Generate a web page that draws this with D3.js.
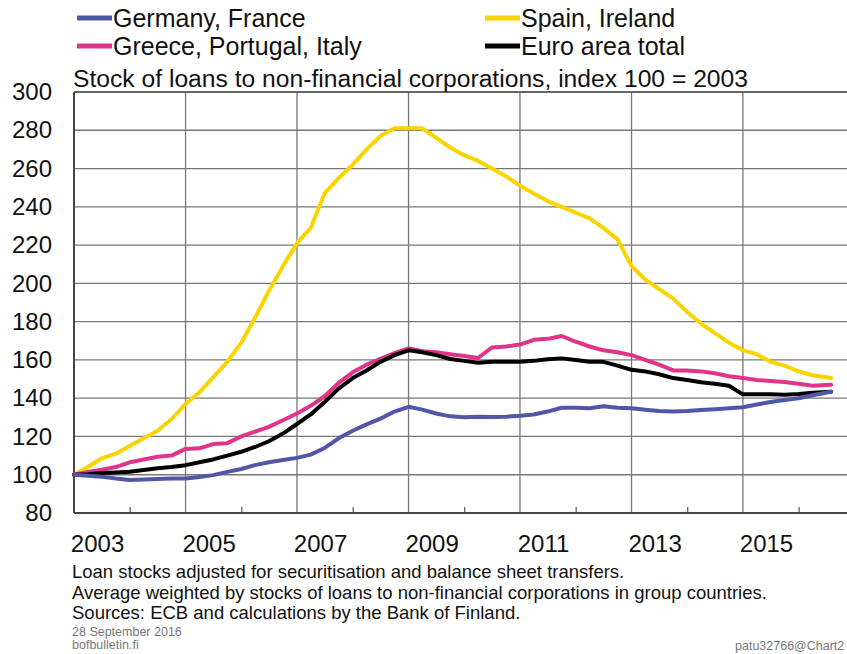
<!DOCTYPE html>
<html><head><meta charset="utf-8">
<script src="https://cdn.jsdelivr.net/npm/d3@7"></script>
<style>
body{margin:0;background:#fff}
svg text{font-family:"Liberation Sans", Arial, sans-serif;fill:#111}
</style>
</head><body>
<svg id="c" width="847" height="654"></svg>
<script>
const dates = ["2003-01","2003-04","2003-07","2003-10","2004-01","2004-04","2004-07","2004-10",
"2005-01","2005-04","2005-07","2005-10","2006-01","2006-04","2006-07","2006-10",
"2007-01","2007-04","2007-07","2007-10","2008-01","2008-04","2008-07","2008-10",
"2009-01","2009-04","2009-07","2009-10","2010-01","2010-04","2010-07","2010-10",
"2011-01","2011-04","2011-07","2011-10","2012-01","2012-04","2012-07","2012-10",
"2013-01","2013-04","2013-07","2013-10","2014-01","2014-04","2014-07","2014-10",
"2015-01","2015-04","2015-07","2015-10","2016-01","2016-04","2016-08"];

const germanyFrance = [100,99.5,99,98,97.2,97.5,97.8,98,98,98.8,99.8,101.5,103,105,106.5,107.7,
108.8,110.5,114,119,123,126.3,129.3,133,135.5,134,132,130.5,130,130.3,130.2,130.3,
130.8,131.5,133,135,135,134.7,135.8,135,134.7,134,133.3,133,133.3,133.8,134.2,134.7,
135.3,136.7,138,139,140,141.5,143.4];

const spainIreland = [100,104,108.5,111,115,119,123,129,137,143,151,159,169,182,196,209,
221,229,247,255,262,270,277,281,281,281,276,271,267,264,260,256,
251,247,243,240,237,234,229,223,209,202,197,192,185,179,174,169,
165,163,159,157,154,152,150.5];

const greecePortugalItaly = [100,101.5,102.6,104,106.5,108,109.4,110,113.5,113.8,116,116.5,120,122.5,125,128.5,
132,136,141,148,153.5,157.5,160.5,163.5,166,164.5,164,163,162,161,166.5,167,
168,170.5,171,172.5,169.5,167,165,164,162.5,160,157.5,154.5,154.5,154,153,151.5,
150.5,149.5,149,148.5,147.5,146.5,147];

const euroArea = [100,100.3,100.9,101.2,101.6,102.5,103.4,104,105,106.5,108,110,112,114.5,117.5,121.5,
126.5,131.5,138,145,150.5,154.5,159,162.5,165,164,162.5,160.5,159.5,158.5,159,159,
159,159.5,160.3,160.8,160,159,159,157,154.8,154,152.5,150.5,149.5,148.3,147.5,146.5,
142,142,142,141.8,142.2,142.8,143.4];

const seriesNames = ["Germany, France","Spain, Ireland","Greece, Portugal, Italy","Euro area total"];
const seriesColors = ["#4f57a8","#fad400","#e0348a","#000000"];
const yTicks = [80,100,120,140,160,180,200,220,240,260,280,300];
const xLabels = ["2003","2005","2007","2009","2011","2013","2015"];
const xGridYears = ["2005","2007","2009","2011","2013","2015"];
const xMinorYears = ["2004","2006","2008","2010","2012","2014","2016"];
const subtitle = "Stock of loans to non-financial corporations, index 100 = 2003";
const notes = ["Loan stocks adjusted for securitisation and balance sheet transfers.",
"Average weighted by stocks of loans to non-financial corporations in group countries.",
"Sources: ECB and calculations by the Bank of Finland."];
const smallNotes = ["28 September 2016","bofbulletin.fi"];
const chartId = "patu32766@Chart2";

const parseM = d3.timeParse("%Y-%m");
const parseY = d3.timeParse("%Y");
const svg = d3.select("#c");
const L = 74, T = 92, B = 513, R = 854.5;
const x = d3.scaleTime().domain([parseY("2003"), parseY("2017")]).range([L, R]);
const y = d3.scaleLinear().domain([80, 300]).range([B, T]);

// gridlines
svg.append("g").selectAll("line").data(yTicks.filter(v => v > 80)).join("line")
  .attr("x1", L).attr("x2", R).attr("y1", d => y(d)).attr("y2", d => y(d))
  .attr("stroke", "#777").attr("stroke-width", 1.3);
svg.append("g").selectAll("line").data(xGridYears).join("line")
  .attr("x1", d => x(parseY(d))).attr("x2", d => x(parseY(d)))
  .attr("y1", T).attr("y2", B).attr("stroke", "#777").attr("stroke-width", 1.3);

// minor ticks
svg.append("g").attr("transform", `translate(0,${B})`)
  .call(d3.axisBottom(x).tickValues(xMinorYears.map(parseY)).tickSize(-6).tickFormat(""))
  .call(g => g.select(".domain").remove())
  .call(g => g.selectAll("line").attr("stroke", "#555").attr("stroke-width", 1.2));

// y axis
svg.append("g").attr("transform", `translate(${L},0)`)
  .call(d3.axisLeft(y).tickValues(yTicks).tickSize(0).tickPadding(22))
  .call(g => g.select(".domain").remove())
  .call(g => g.selectAll("text").attr("font-size", 24).style("font-family", "'Liberation Sans', Arial, sans-serif").attr("fill", "#111"));

// x labels
svg.append("g").attr("transform", `translate(0,${B})`)
  .call(d3.axisBottom(x).tickValues(xLabels.map(s => d3.timeMonth.offset(parseY(s), 5))).tickSize(0).tickPadding(22)
        .tickFormat(d => d3.timeFormat("%Y")(d)))
  .call(g => g.select(".domain").remove())
  .call(g => g.selectAll("text").attr("font-size", 24).style("font-family", "'Liberation Sans', Arial, sans-serif").attr("fill", "#111"));

// frame
svg.append("line").attr("x1", L).attr("x2", L).attr("y1", T).attr("y2", B).attr("stroke", "#444").attr("stroke-width", 2);
svg.append("line").attr("x1", L).attr("x2", R).attr("y1", B).attr("y2", B).attr("stroke", "#444").attr("stroke-width", 2.2);
svg.append("line").attr("x1", L).attr("x2", R).attr("y1", T).attr("y2", T).attr("stroke", "#555").attr("stroke-width", 1.5);

// lines
const allSeries = [germanyFrance, spainIreland, greecePortugalItaly, euroArea];
const line = d3.line().x((d, i) => x(parseM(dates[i]))).y(d => y(d)).curve(d3.curveLinear);
[1, 2, 3, 0].forEach(k => {
  svg.append("path").datum(allSeries[k]).attr("d", line)
    .attr("fill", "none").attr("stroke", seriesColors[k]).attr("stroke-width", 4)
    .attr("stroke-linejoin", "round").attr("stroke-linecap", "round");
});

// legend
const legPos = [[77, 18], [485, 18], [77, 46], [485, 46]];
seriesNames.forEach((n, i) => {
  const [lx, ly] = legPos[i];
  svg.append("line").attr("x1", lx).attr("x2", lx + 35).attr("y1", ly).attr("y2", ly)
    .attr("stroke", seriesColors[i]).attr("stroke-width", 5);
  svg.append("text").attr("x", lx + 36).attr("y", ly + 9).attr("font-size", 25).text(n);
});

svg.append("text").attr("x", 73).attr("y", 87).attr("font-size", 23.5)
  .attr("textLength", 675).attr("lengthAdjust", "spacingAndGlyphs").text(subtitle);

notes.forEach((t, i) => {
  svg.append("text").attr("x", 72).attr("y", 578 + i * 20.5).attr("font-size", 18.5).text(t);
});
smallNotes.forEach((t, i) => {
  svg.append("text").attr("x", 72).attr("y", 636 + i * 13).attr("font-size", 12.5).style("fill", "#777").text(t);
});
svg.append("text").attr("x", 735).attr("y", 650).attr("font-size", 12.5).style("fill", "#777").text(chartId);
</script>
</body></html>
